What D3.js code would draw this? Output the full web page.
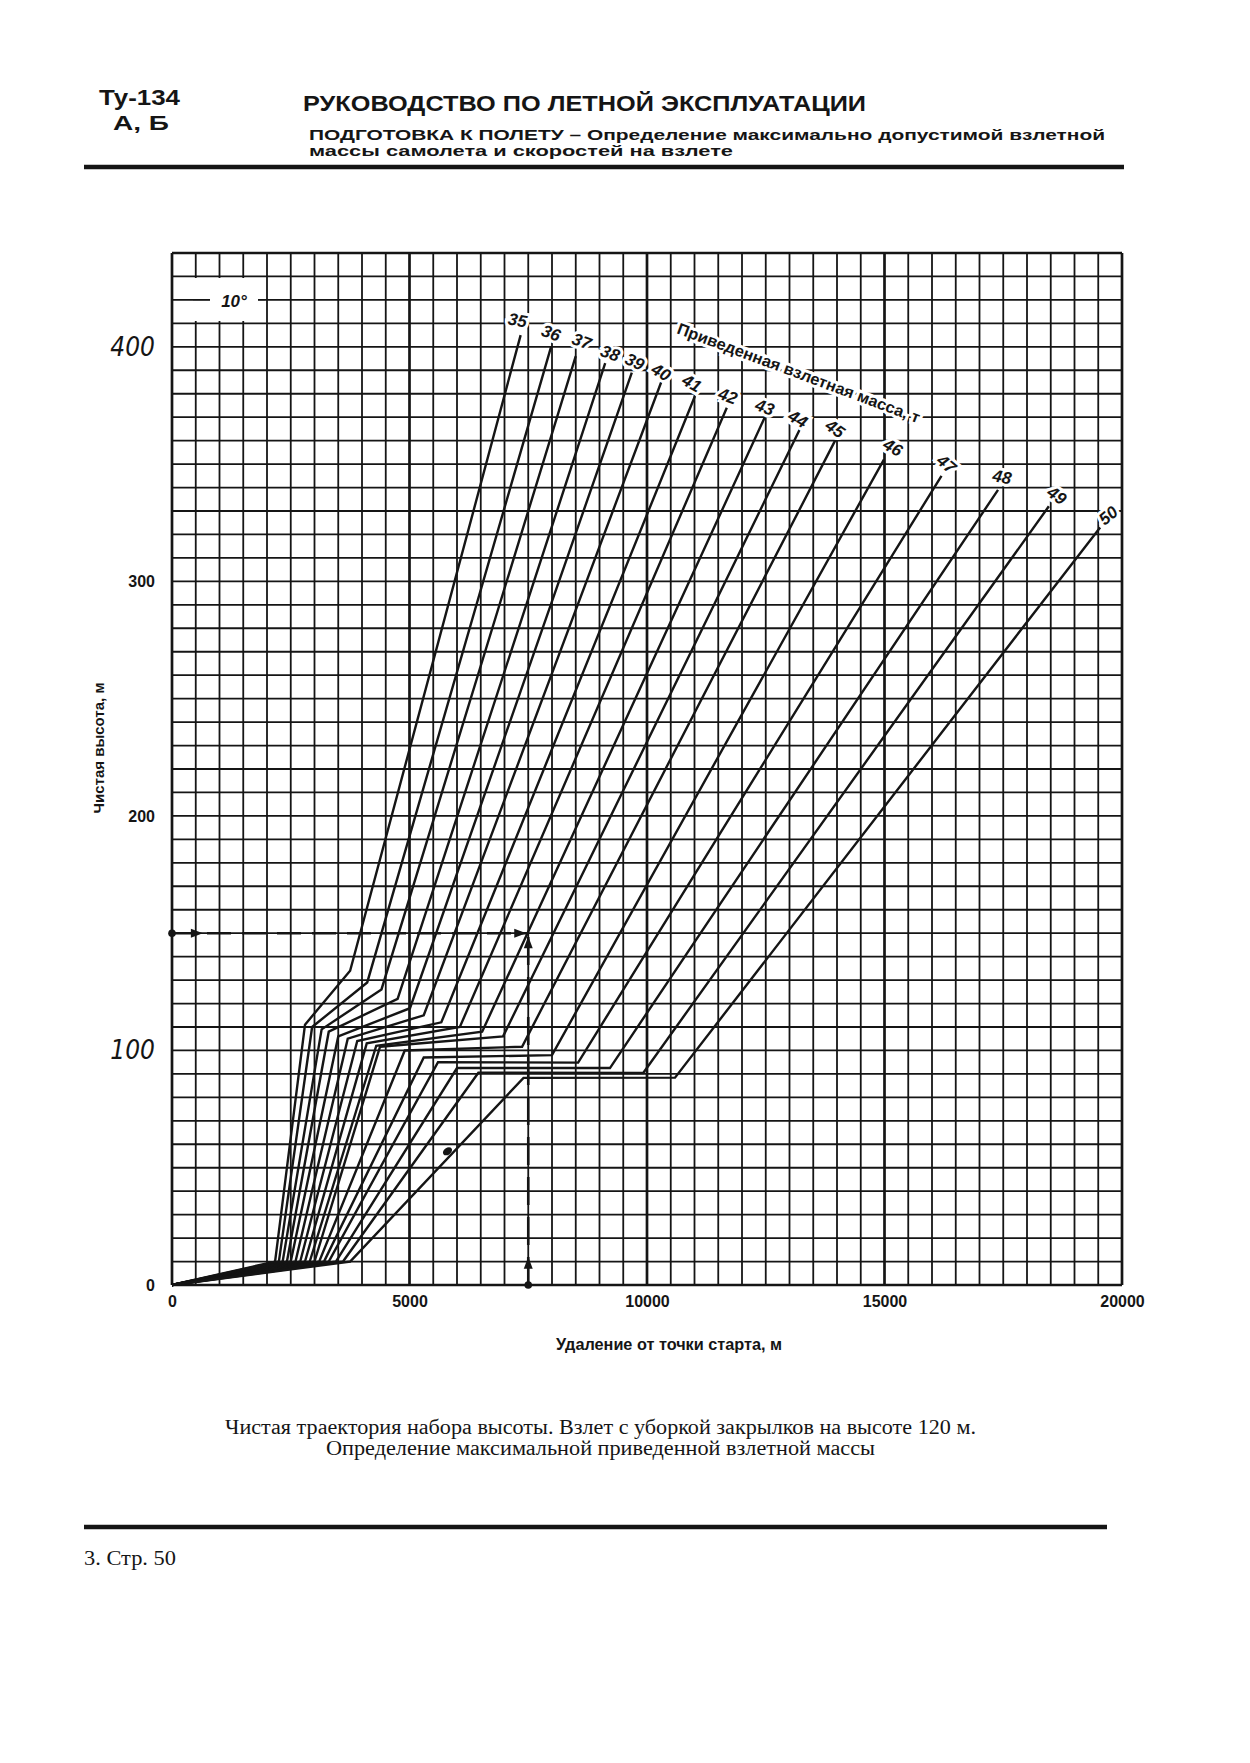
<!DOCTYPE html>
<html><head><meta charset="utf-8">
<script src="https://cdn.jsdelivr.net/npm/d3@7"></script>
<style>body{margin:0;background:#fff}svg{display:block}</style>
</head><body>
<svg id="c" width="1250" height="1763"></svg>
<script>
// ---- data ----
const masses = [35,36,37,38,39,40,41,42,43,44,45,46,47,48,49,50];
// end of first segment (m, m)
const p1x = [2170,2250,2330,2420,2500,2600,2700,2800,2900,3000,3100,3200,3300,3450,3600,3750];
const p1y = [10,10,10,10,10,10,10,10,10,10,10,10,10,10,10,10];
// top of steep second segment
const p2x = [2800,2950,3150,3300,3500,3700,3900,4100,4300,4380,4900,5300,5600,6000,6450,7400];
const p2y = [111,110,109,108,106,105,104,103,102,101.6,100,97,95,92.5,90.5,88.3];
// end of acceleration segment
const p3x = [3750,4110,4410,4750,5010,5300,5670,6060,6530,6970,7370,8000,8550,9220,9920,10590];
const p3y = [134,129,126,122,118,115,112,110,108,106,101.6,98,94.8,92.5,90.4,88.4];
// top of final climb segment
const p4x = [7340,7980,8500,9120,9680,10300,11010,11680,12480,13220,13960,14990,16200,17390,18460,19540];
const p4y = [405,400,396,393,389,385,379,374,370,365,360,352,345,339,332,323];

const xTicks = [0,5000,10000,15000,20000];
const yTicks = [0,100,200,300,400];
const yTickLabels = ["0","100","200","300","400"];
// worked example
const exampleDist = 7500, exampleHeight = 150;

// ---- layout ----
const svg = d3.select('#c');
const x = d3.scaleLinear().domain([0,20000]).range([172,1122]);
const y = d3.scaleLinear().domain([0,440]).range([1285,253]);
const sans = "'Liberation Sans Narrow','Liberation Sans',Arial,sans-serif";
const sansW = "'Liberation Sans',Arial,sans-serif";
const serif = "'Liberation Serif','Times New Roman',serif";
const ink = '#151515';

// header
const hdr = svg.append('g').attr('fill',ink).style('font-family',sans).style('font-weight','bold');
hdr.append('text').attr('x',99).attr('y',105).attr('font-size',22).attr('textLength',81).attr('lengthAdjust','spacingAndGlyphs').text('Ту-134');
hdr.append('text').attr('x',113).attr('y',130).attr('font-size',21).attr('textLength',56).attr('lengthAdjust','spacingAndGlyphs').text('А,  Б');
hdr.append('text').attr('x',303).attr('y',111).attr('font-size',22).attr('textLength',563).attr('lengthAdjust','spacingAndGlyphs').text('РУКОВОДСТВО ПО ЛЕТНОЙ ЭКСПЛУАТАЦИИ');
hdr.append('text').attr('x',309).attr('y',140).attr('font-size',15).attr('textLength',796).attr('lengthAdjust','spacingAndGlyphs').text('ПОДГОТОВКА К ПОЛЕТУ – Определение максимально допустимой взлетной');
hdr.append('text').attr('x',309).attr('y',156).attr('font-size',15).attr('textLength',424).attr('lengthAdjust','spacingAndGlyphs').text('массы самолета и скоростей на взлете');
svg.append('line').attr('x1',84).attr('x2',1124).attr('y1',167).attr('y2',167).attr('stroke',ink).attr('stroke-width',4.5);

// grid
const grid = svg.append('g').attr('stroke',ink);
grid.selectAll('line.v').data(d3.range(0,20001,500)).join('line')
  .attr('x1',d=>x(d)).attr('x2',d=>x(d)).attr('y1',y(0)).attr('y2',y(440))
  .attr('stroke-width',d=>d%5000===0?2.7:1.8);
grid.selectAll('line.h').data(d3.range(0,441,10)).join('line')
  .attr('x1',x(0)).attr('x2',x(20000)).attr('y1',d=>y(d)).attr('y2',d=>y(d))
  .attr('stroke-width',d=>d===0||d===440?2.4:1.8);

// 10° box
svg.append('rect').attr('x',193).attr('y',278).attr('width',72).attr('height',43).attr('fill','#fff');
svg.append('line').attr('x1',193).attr('x2',210).attr('y1',y(420)).attr('y2',y(420)).attr('stroke',ink).attr('stroke-width',1.8);
svg.append('line').attr('x1',258).attr('x2',265).attr('y1',y(420)).attr('y2',y(420)).attr('stroke',ink).attr('stroke-width',1.8);
svg.append('text').attr('x',234).attr('y',307).attr('text-anchor','middle').attr('font-size',17)
  .style('font-family',sansW).style('font-weight','bold').style('font-style','italic').attr('fill',ink).text('10°');

// axes
const xAxis = svg.append('g').attr('transform',`translate(0,${y(0)})`)
  .call(d3.axisBottom(x).tickValues(xTicks).tickSize(0).tickPadding(11).tickFormat(d3.format('d')));
xAxis.select('.domain').remove();
xAxis.selectAll('text').attr('font-size',16).attr('fill',ink).style('font-family',sansW).style('font-weight','bold');

const yAxis = svg.append('g').attr('transform',`translate(${x(0)},0)`)
  .call(d3.axisLeft(y).tickValues(yTicks).tickSize(0).tickPadding(17).tickFormat((d,i)=>yTickLabels[i]));
yAxis.select('.domain').remove();
yAxis.selectAll('text').attr('fill',ink)
  .each(function(d){
    const t=d3.select(this);
    if(d===100||d===400){t.attr('font-size',26).style('font-family',"'DejaVu Sans Condensed','Liberation Sans Narrow',sans-serif").style('font-style','italic').style('font-weight','normal');}
    else {t.attr('font-size',16).style('font-family',sansW).style('font-weight','bold');}
  });

// axis titles
svg.append('text').attr('transform','translate(104,748) rotate(-90)').attr('text-anchor','middle')
  .attr('font-size',15).style('font-family',sans).style('font-weight','bold').attr('fill',ink).text('Чистая высота,  м');
svg.append('text').attr('x',669).attr('y',1350).attr('text-anchor','middle')
  .attr('font-size',16).attr('textLength',226).attr('lengthAdjust','spacingAndGlyphs')
  .style('font-family',sans).style('font-weight','bold').attr('fill',ink).text('Удаление от точки старта,  м');

// curves
const line = d3.line().x(d=>x(d[0])).y(d=>y(d[1]));
const curves = masses.map((m,i)=>({m, pts:[[0,0],[p1x[i],p1y[i]],[p2x[i],p2y[i]],[p3x[i],p3y[i]],[p4x[i],p4y[i]]]}));
svg.append('g').selectAll('path').data(curves).join('path')
  .attr('d',d=>line(d.pts)).attr('fill','none').attr('stroke',ink).attr('stroke-width',2.4).attr('stroke-linejoin','miter');

// example dashed lines
const ex = svg.append('g').attr('stroke',ink).attr('fill','none');
ex.append('line').attr('x1',x(0)).attr('x2',x(exampleDist)).attr('y1',y(exampleHeight)).attr('y2',y(exampleHeight))
  .attr('stroke-width',2.4).attr('stroke-dasharray','24,11');
ex.append('line').attr('x1',x(exampleDist)).attr('x2',x(exampleDist)).attr('y1',y(0)).attr('y2',y(exampleHeight))
  .attr('stroke-width',2.6).attr('stroke-dasharray','28,12');
svg.append('circle').attr('cx',x(0)).attr('cy',y(exampleHeight)).attr('r',3.8).attr('fill',ink);
svg.append('circle').attr('cx',x(exampleDist)).attr('cy',y(0)).attr('r',3.8).attr('fill',ink);
function arrow(px,py,ang){
  svg.append('path').attr('d','M0,0 L-12,-4.5 L-12,4.5 Z').attr('fill',ink)
    .attr('transform',`translate(${px},${py}) rotate(${ang})`);
}
arrow(x(650),y(exampleHeight),0);
arrow(x(exampleDist)-2,y(exampleHeight),0);
arrow(x(exampleDist),y(exampleHeight)+3,-90);
arrow(x(exampleDist),y(12),-90);
svg.append('ellipse').attr('cx',x(5800)).attr('cy',y(57)).attr('rx',5).attr('ry',3.5).attr('fill',ink)
  .attr('transform',`rotate(-35,${x(5800)},${y(57)})`);

// curve labels
const lblDx = [-3,0,6,5,3,0,-3,1,0,-2,0,9,5,4,8,8];
const lblDy = [-15,-14,-15,-10,-11,-10,-13,-12,-10,-10,-12,-12,-12,-13,-11,-12];
const lblRot = [10,20,20,20,25,30,30,20,20,30,35,30,40,10,35,-40];
svg.append('g').selectAll('text').data(curves).join('text')
  .attr('transform',(d,i)=>`translate(${x(p4x[i])+lblDx[i]},${y(p4y[i])+lblDy[i]}) rotate(${lblRot[i]})`)
  .attr('text-anchor','middle').attr('dy','0.35em').attr('font-size',17)
  .style('font-family',sansW).style('font-weight','bold').style('font-style','italic')
  .attr('fill',ink).attr('stroke','#fff').attr('stroke-width',6).attr('paint-order','stroke')
  .text(d=>d.m);
svg.append('text').attr('transform','translate(676,333) rotate(20.5)')
  .attr('font-size',16).attr('textLength',258).attr('lengthAdjust','spacingAndGlyphs')
  .style('font-family',sansW).style('font-weight','bold')
  .attr('fill',ink).attr('stroke','#fff').attr('stroke-width',6).attr('paint-order','stroke')
  .text('Приведенная взлетная масса,  т');

// caption
const cap = svg.append('g').style('font-family',serif).attr('fill',ink).attr('font-size',20);
cap.append('text').attr('x',225).attr('y',1434).attr('textLength',751).attr('lengthAdjust','spacingAndGlyphs')
  .text('Чистая траектория набора высоты. Взлет с уборкой закрылков на высоте 120 м.');
cap.append('text').attr('x',326).attr('y',1455).attr('textLength',549).attr('lengthAdjust','spacingAndGlyphs')
  .text('Определение максимальной приведенной взлетной массы');
svg.append('line').attr('x1',84).attr('x2',1107).attr('y1',1527).attr('y2',1527).attr('stroke',ink).attr('stroke-width',4.5);
cap.append('text').attr('x',84).attr('y',1565).attr('textLength',92).attr('lengthAdjust','spacingAndGlyphs').text('3. Стр. 50');
</script>
</body></html>
